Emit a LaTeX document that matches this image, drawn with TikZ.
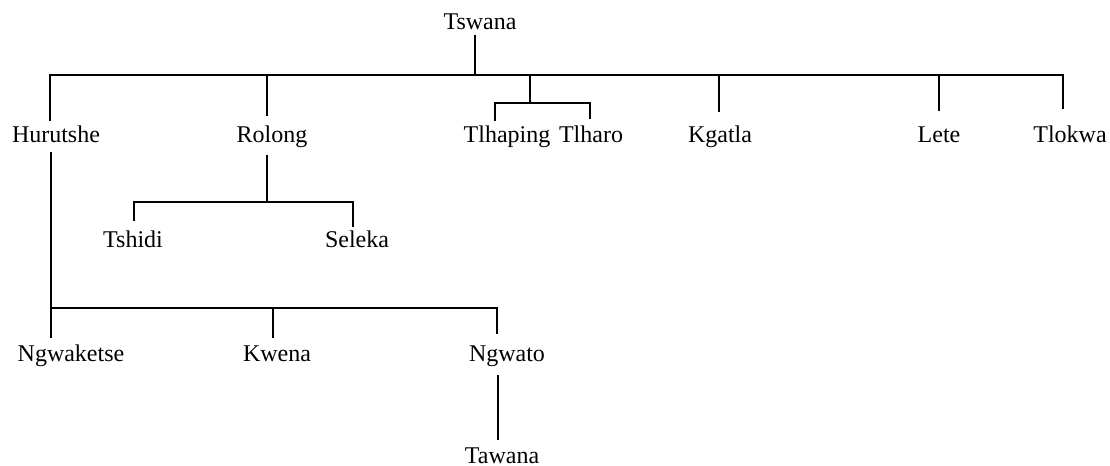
\documentclass[tikz,border=0pt]{standalone}
\usepackage{fontspec}
\setmainfont{Liberation Serif}
\usetikzlibrary{calc}

\begin{document}
\begin{tikzpicture}[
  x=0.75pt, y=-0.75pt,
  line width=1.1pt,
  tribe/.style={
    font=\fontsize{18}{21}\selectfont,
    inner sep=1.5pt,
    text height=12pt,
    text depth=4pt,
    anchor=base
    }
]
\useasboundingbox (0,0) rectangle (1110,466);

\node[tribe] (tswana) at (480,30) {Tswana};

% first generation
\foreach \Nombre/\Texto/\Pos in {hurutshe/Hurutshe/56, rolong/Rolong/272, tlhaping/Tlhaping/507, tlharo/Tlharo/591, kgatla/Kgatla/720, lete/Lete/939, tlokwa/Tlokwa/1070}
  \node[tribe] (\Nombre) at (\Pos,143) {\Texto};

% second and third generation
\node[tribe] (tshidi) at (133,248) {Tshidi};
\node[tribe] (seleka) at (357,248) {Seleka};
\node[tribe] (ngwaketse) at (71,362) {Ngwaketse};
\node[tribe] (kwena) at (277,362) {Kwena};
\node[tribe] (ngwato) at (507,362) {Ngwato};
\node[tribe] (tawana) at (502,463) {Tawana};

% bars
\coordinate (bar0) at (475,75);
\coordinate (bar1) at (530,103);
\coordinate (bar2) at (267,202);
\coordinate (bar3) at (51,308);

\draw (bar0 |- tswana.south) ++(0,-3) -- (bar0);
\foreach \Nombre/\Dx/\Gap in {hurutshe/-6/3, rolong/-5/8, kgatla/-1/12, lete/0/13, tlokwa/-7/15}
  \draw (bar0) -| ($(\Nombre.north)+(\Dx,-\Gap)$);

\draw (bar0) -| (bar1);
\draw (bar1) -| ($(tlhaping.north)+(-12,-3)$);
\draw (bar1) -| ($(tlharo.north)+(-1,-5)$);

\draw ($(bar2 |- rolong.south)+(0,4)$) -- (bar2);
\draw (bar2) -| ($(tshidi.north)+(1,-8)$);
\draw (bar2) -| ($(seleka.north)+(-4,-2)$);

\draw ($(bar3 |- hurutshe.south)+(0,1)$) -- (bar3);
\foreach \Nombre/\Dx/\Gap in {ngwaketse/-20/5, kwena/-4/5, ngwato/-10/9}
  \draw (bar3) -| ($(\Nombre.north)+(\Dx,-\Gap)$);

\draw[shorten <=3.5pt, shorten >=3pt] ($(ngwato.south)+(-9,0)$) -- ($(tawana.north)+(-4,0)$);
\end{tikzpicture}
\end{document}
